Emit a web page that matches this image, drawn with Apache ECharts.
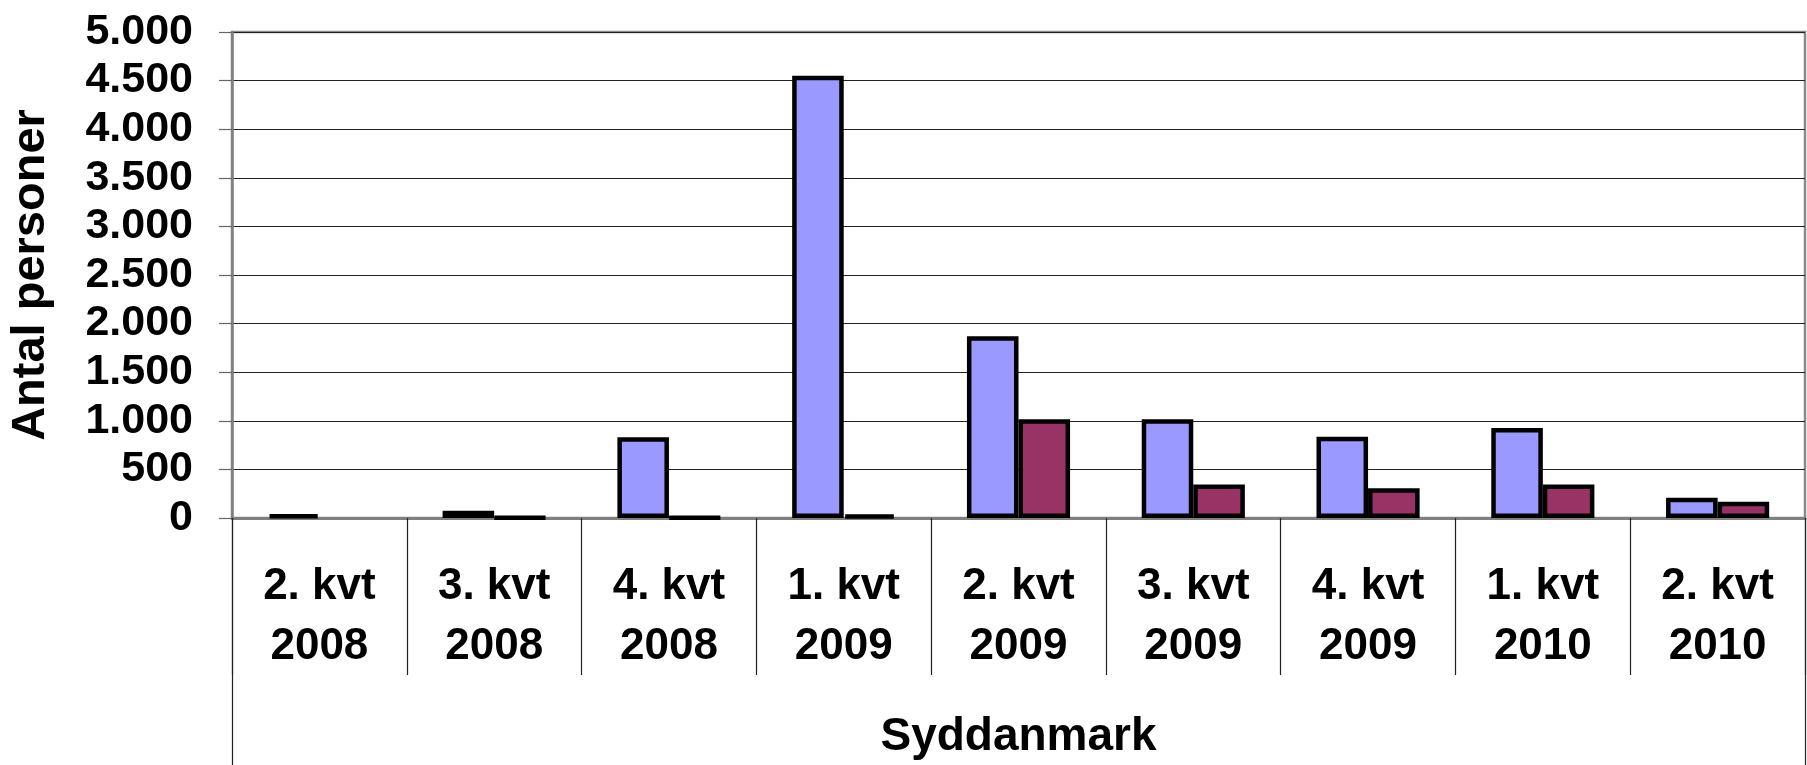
<!DOCTYPE html>
<html>
<head>
<meta charset="utf-8">
<script src="https://cdn.jsdelivr.net/npm/echarts@6/dist/echarts.min.js"></script>
<style>
html,body{margin:0;padding:0;background:#fff;}
#chart{width:1807px;height:765px;}
</style>
</head>
<body>
<div id="chart"></div>
<script>
var categories = ['2. kvt\n2008','3. kvt\n2008','4. kvt\n2008','1. kvt\n2009','2. kvt\n2009','3. kvt\n2009','4. kvt\n2009','1. kvt\n2010','2. kvt\n2010'];
var groupLabels = ['Syddanmark'];
var seriesA = [35, 75, 830, 4550, 1870, 1015, 835, 925, 208];
var seriesB = [null, 3, 3, 30, 1015, 345, 305, 345, 168];
var yTickLabels = ['0','500','1.000','1.500','2.000','2.500','3.000','3.500','4.000','4.500','5.000'];
var yAxisTitle = 'Antal personer';

var FONT = '"Liberation Sans", Arial, sans-serif';
var chart = echarts.init(document.getElementById('chart'), null, {renderer:'canvas'});
chart.setOption({
  animation: false,
  backgroundColor: '#ffffff',
  grid: {
    left: 232, right: 2, top: 32, bottom: 247,
    containLabel: false, outerBoundsMode: 'none',
    show: true, borderColor: '#8a8a8a', borderWidth: 2.5, backgroundColor: 'transparent'
  },
  xAxis: [{
    type: 'category',
    data: categories,
    position: 'bottom',
    axisLine: {show: true, lineStyle: {color: '#7f7f7f', width: 3}},
    axisTick: {show: true, interval: 0, length: 157, lineStyle: {color: '#222', width: 1.2}},
    axisLabel: {
      interval: 0, margin: 39, color: '#000',
      fontFamily: FONT, fontWeight: 'bold', fontSize: 44, lineHeight: 60
    },
    splitLine: {show: false}
  }, {
    type: 'category',
    data: groupLabels,
    position: 'bottom',
    axisLine: {show: false},
    axisTick: {show: true, interval: 0, length: 250, lineStyle: {color: '#222', width: 1.2}},
    axisLabel: {
      interval: 0, margin: 196, color: '#000',
      fontFamily: FONT, fontWeight: 'bold', fontSize: 46, lineHeight: 46
    }
  }],
  yAxis: {
    type: 'value',
    min: 0, max: 5000, interval: 500,
    name: yAxisTitle,
    nameLocation: 'middle',
    nameGap: 177,
    nameTextStyle: {color: '#000', fontFamily: FONT, fontWeight: 'bold', fontSize: 47},
    axisLine: {show: true, lineStyle: {color: '#7f7f7f', width: 2.5}},
    axisTick: {show: true, inside: false, length: 13, lineStyle: {color: '#666', width: 1.2}},
    axisLabel: {
      margin: 39, color: '#000', fontFamily: FONT, fontWeight: 'bold', fontSize: 43,
      formatter: function (v) { return yTickLabels[Math.round(v / 500)]; }
    },
    splitLine: {show: true, lineStyle: {color: '#222', width: 1.2}}
  },
  series: [{
    type: 'bar',
    data: seriesA,
    barGap: '0%',
    barCategoryGap: '41%',
    itemStyle: {color: '#9999FF', borderColor: '#000', borderWidth: 4.5}
  }, {
    type: 'bar',
    data: seriesB,
    barGap: '0%',
    barCategoryGap: '41%',
    itemStyle: {color: '#993366', borderColor: '#000', borderWidth: 4.5}
  }]
});
</script>
</body>
</html>
